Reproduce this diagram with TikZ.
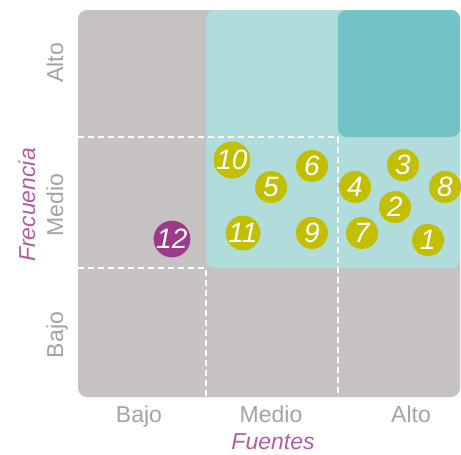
\documentclass[tikz,border=0pt]{standalone}
\usepackage{fontspec}
\setmainfont{Liberation Sans}
\usetikzlibrary{positioning}

\definecolor{bggray}{HTML}{C6C2C2}
\definecolor{lightteal}{HTML}{B0DCDC}
\definecolor{darkteal}{HTML}{72C2C6}
\definecolor{olive}{HTML}{C2BE00}
\definecolor{plum}{HTML}{9C3A8B}
\definecolor{labelgray}{HTML}{A3A3A3}
\definecolor{titlemag}{HTML}{B05CA6}

\tikzset{
    dot/.style={circle, fill=olive, minimum size=32pt, inner sep=0pt,
        text=white, font=\fontsize{28}{28}\selectfont\itshape},
    level/.style={text=labelgray, font=\fontsize{23}{23}\selectfont, inner sep=0pt},
    axistitle/.style={text=titlemag, font=\fontsize{23}{23}\selectfont\itshape, inner sep=0pt},
    grid line/.style={white, line width=2pt, dash pattern=on 6pt off 4pt}
}

\begin{document}
\begin{tikzpicture}[x=1pt, y=-1pt]
    \useasboundingbox (0,0) rectangle (461,455);

    % zones
    \fill[bggray, rounded corners=9pt] (78,10) rectangle (460,397);
    \fill[lightteal, rounded corners=9pt] (206,10) rectangle (460,268);
    \fill[darkteal, rounded corners=9pt] (338,10) rectangle (460,137);

    % dashed limits
    \coordinate (h1a) at (78,137);
    \coordinate (h1b) at (338,137);
    \coordinate (v1b) at (338,397);
    \coordinate (h2a) at (78,268);
    \coordinate (h2b) at (206,268);
    \coordinate (v2b) at (206,397);
    \draw[grid line] (h1a) -- (h1b) -- (v1b);
    \draw[grid line] (h2a) -- (h2b) -- (v2b);

    % axis levels
    \node[level, rotate=90, anchor=base] (fAlto) at (63,63) {Alto};
    \node[level, rotate=90, anchor=base] (fMedio) at (63,205) {Medio};
    \node[level, rotate=90, anchor=base] (fBajo) at (63,335) {Bajo};

    \node[level, anchor=base] (sBajo) at (139,422) {Bajo};
    \node[level, anchor=base] (sMedio) at (271,422) {Medio};
    \node[level, anchor=base] (sAlto) at (411,422) {Alto};

    \node[axistitle, rotate=90, anchor=base] (frec) at (35,205) {Frecuencia};
    \node[axistitle, anchor=base] (fuentes) at (273,449) {Fuentes};

    % items
    \node[dot] (n1) at (428,240) {1};
    \node[dot] (n2) at (395,207) {2};
    \node[dot] (n3) at (403,165) {3};
    \node[dot] (n4) at (355,187) {4};
    \node[dot] (n5) at (271,187) {5};
    \node[dot] (n6) at (312,166) {6};
    \node[dot] (n7) at (362,233) {7};
    \node[dot] (n8) at (445,187) {8};
    \node[dot] (n9) at (312,233) {9};
    \node[dot] (n10) at (232,160) {10};
    \node[dot] (n11) at (243,233) {11};
    \node[dot, fill=plum] (n12) at (172,239) {12};
\end{tikzpicture}
\end{document}
